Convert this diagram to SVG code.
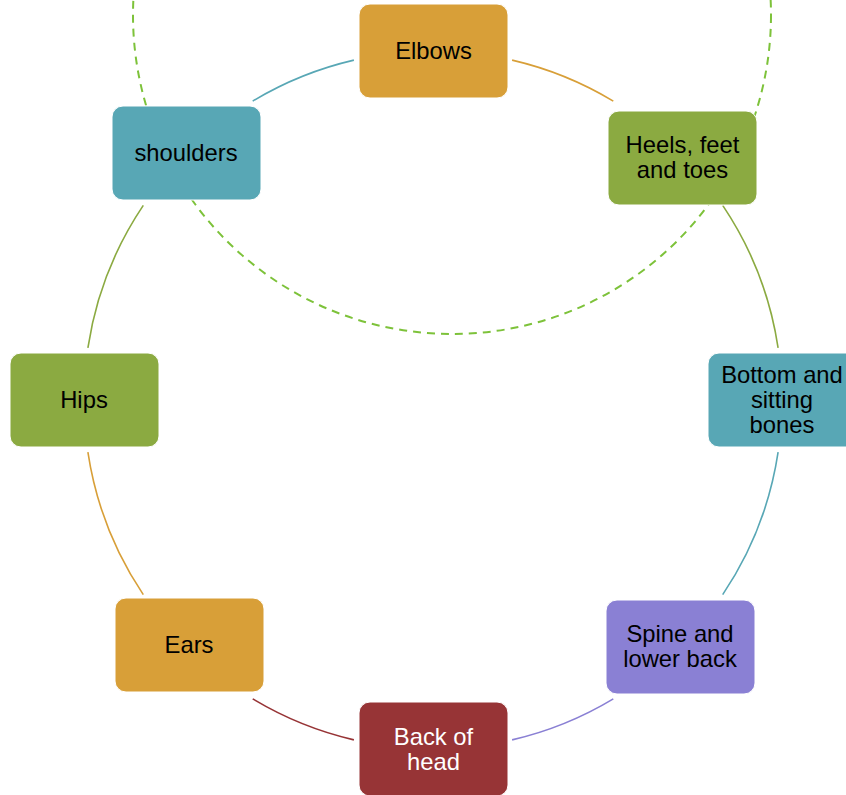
<svg xmlns="http://www.w3.org/2000/svg" width="846" height="795" viewBox="0 0 846 795">
<style>
.n rect{stroke:#ffffff;stroke-width:1}
.n text{font-family:"Liberation Sans",Arial,sans-serif;font-size:23.8px;text-anchor:middle;fill:#000}
.c path{fill:none;stroke-width:1.6}
.org{fill:#D89F38}.grn{fill:#8BAA41}.tea{fill:#58A7B5}.pur{fill:#8A80D4}.red{fill:#973436}
</style>
<rect width="846" height="795" fill="#fff"/>
<circle id="dashed-circle" cx="452" cy="15" r="319" fill="none" stroke="#7DC23A" stroke-width="2" stroke-dasharray="8,6"/>
<g id="connectors" class="c">
<path d="M512.1 60.1 A349 349 0 0 1 613.3 101.1" stroke="#D89F38"/>
<path d="M722.7 205.4 A349 349 0 0 1 778.1 347.8" stroke="#8BAA41"/>
<path d="M778.1 452.2 A349 349 0 0 1 722.7 594.6" stroke="#58A7B5"/>
<path d="M613.3 698.9 A349 349 0 0 1 512.1 739.9" stroke="#8A80D4"/>
<path d="M353.9 739.9 A349 349 0 0 1 252.7 698.9" stroke="#973436"/>
<path d="M143.3 594.6 A349 349 0 0 1 87.9 452.2" stroke="#D89F38"/>
<path d="M87.9 347.8 A349 349 0 0 1 143.3 205.4" stroke="#8BAA41"/>
<path d="M252.7 101.1 A349 349 0 0 1 353.9 60.1" stroke="#58A7B5"/>
</g>
<g id="elbows" class="n"><rect class="org" x="359" y="4" width="149" height="94" rx="11"/><text x="433.5" y="59">Elbows</text></g>
<g id="heels" class="n"><rect class="grn" x="608" y="111" width="149" height="94" rx="11"/><text x="682.5" y="153">Heels, feet</text><text x="682.5" y="178">and toes</text></g>
<g id="bottom" class="n"><rect class="tea" x="708" y="353" width="149" height="94" rx="11"/><text x="782" y="383">Bottom and</text><text x="782" y="408">sitting</text><text x="782" y="433">bones</text></g>
<g id="spine" class="n"><rect class="pur" x="606" y="600" width="149" height="94" rx="11"/><text x="680" y="642">Spine and</text><text x="680" y="667">lower back</text></g>
<g id="back-of-head" class="n"><rect class="red" x="359" y="702" width="149" height="94" rx="11"/><text x="433.5" y="745" style="fill:#fff">Back of</text><text x="433.5" y="770" style="fill:#fff">head</text></g>
<g id="ears" class="n"><rect class="org" x="115" y="598" width="149" height="94" rx="11"/><text x="189" y="653">Ears</text></g>
<g id="hips" class="n"><rect class="grn" x="10" y="353" width="149" height="94" rx="11"/><text x="84" y="408">Hips</text></g>
<g id="shoulders" class="n"><rect class="tea" x="112" y="106" width="149" height="94" rx="11"/><text x="186" y="161">shoulders</text></g>
</svg>
